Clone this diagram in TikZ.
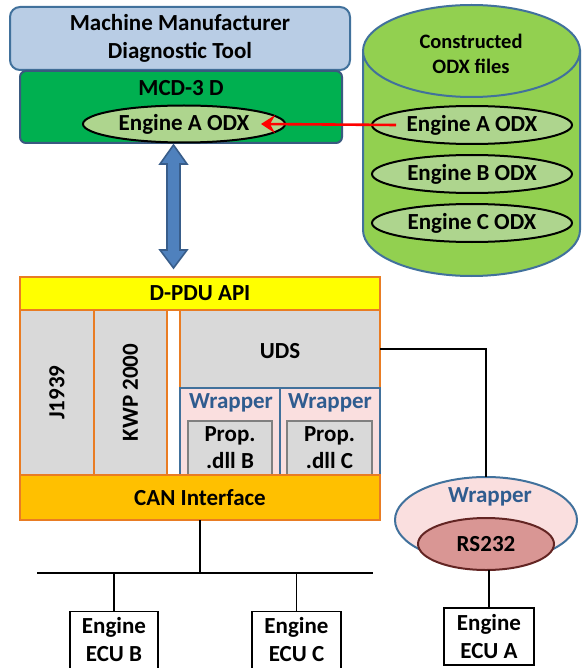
\documentclass[tikz,border=0pt]{standalone}
\usepackage{fontspec}
\setmainfont{Carlito}
\usetikzlibrary{calc,arrows.meta,shapes.geometric}
\definecolor{mmdtfill}{HTML}{B9CDE5}
\definecolor{bluebord}{HTML}{41719C}
\definecolor{mcdgreen}{HTML}{00B050}
\definecolor{mcdbord}{HTML}{3A5A80}
\definecolor{lgreen}{HTML}{AED58E}
\definecolor{cylgreen}{HTML}{92D050}
\definecolor{orng}{HTML}{E97C23}
\definecolor{ylw}{HTML}{FFFF00}
\definecolor{gry}{HTML}{D9D9D9}
\definecolor{grybord}{HTML}{808080}
\definecolor{pink}{HTML}{FADFDF}
\definecolor{wraptext}{HTML}{2F5C8F}
\definecolor{rsfill}{HTML}{D99694}
\definecolor{rsbord}{HTML}{632523}
\definecolor{canfill}{HTML}{FFC000}
\definecolor{arrfill}{HTML}{4F81BD}
\definecolor{arrbord}{HTML}{385D8A}
\definecolor{redarr}{HTML}{FF0000}
\tikzset{
  base/.style={inner sep=0pt, outer sep=0pt, align=center},
  orbox/.style={base, draw=orng, line width=2.5pt},
  oval/.style={base, ellipse, draw=black, line width=2pt, fill=lgreen},
  wrapbox/.style={base, draw=bluebord, line width=2pt, fill=pink},
  propbox/.style={base, draw=grybord, line width=2pt, fill=gry},
  ecubox/.style={base, draw=black, line width=1.8pt, fill=white},
  wire/.style={draw=black, line width=1.9pt},
  wraplabel/.style={base, text=wraptext},
}
\begin{document}
\begin{tikzpicture}[x=1pt,y=-1pt, font=\fontsize{23}{28}\selectfont\bfseries]
\useasboundingbox (0,0) rectangle (582,668);

% Top tool
\node[base, draw=bluebord, line width=2pt, fill=mmdtfill, rounded corners=10pt,
      minimum width=340pt, minimum height=63pt] (mmdt) at (180,38.5)
      {Machine Manufacturer\\Diagnostic Tool};
\node[base, draw=mcdbord, line width=2pt, fill=mcdgreen, rounded corners=6pt,
      minimum width=322pt, minimum height=72pt] (mcd) at (181,107) {};
\node[base] (mcdlabel) at (181,88) {MCD-3 D};
\node[oval, minimum width=202pt, minimum height=37pt] (engA) at (184,124) {Engine A ODX};

% Cylinder
\path[fill=cylgreen, draw=bluebord, line width=2pt]
  (363,51) -- (363,230) arc[start angle=180, end angle=360, x radius=108.5pt, y radius=46pt]
  -- (580,51) -- cycle;
\draw[fill=cylgreen, draw=bluebord, line width=2pt] (471.5,51) ellipse [x radius=108.5pt, y radius=46pt];
\node[base, font=\fontsize{20.5}{25}\selectfont\bfseries] (cyltext) at (471,54) {Constructed\\ODX files};
\node[oval, minimum width=200pt, minimum height=38pt] (odxA) at (472,125) {Engine A ODX};
\node[oval, minimum width=200pt, minimum height=38pt] (odxB) at (472,174) {Engine B ODX};
\node[oval, minimum width=200pt, minimum height=38pt] (odxC) at (472,223) {Engine C ODX};

\draw[draw=redarr, line width=2.6pt, -{Stealth[length=14pt,width=18pt,inset=5pt]}]
  ($(odxA.west)+(24,0)$) -- ($(engA.east)+(-24,0)$);

% D-PDU stack
\node[orbox, fill=gry, minimum width=74pt, minimum height=165pt] (j1939) at (57,392.5) {};
\node[base, rotate=90] (j1939t) at (j1939.center) {J1939};
\node[orbox, fill=gry, minimum width=73pt, minimum height=165pt] (kwp) at (130.5,392.5) {};
\node[base, rotate=90] (kwpt) at (kwp.center) {KWP 2000};
\node[orbox, fill=gry, minimum width=200pt, minimum height=78pt] (uds) at (280,349) {};
\node[base] (udst) at (280,351) {UDS};
\node[wrapbox, minimum width=100pt, minimum height=87pt] (wrapB) at (230,431.5) {};
\node[wrapbox, minimum width=100pt, minimum height=87pt] (wrapC) at (330,431.5) {};
\node[wraplabel] (wrapBt) at (231,403) {Wrapper};
\node[wraplabel] (wrapCt) at (330,403) {Wrapper};
\node[propbox, minimum width=84pt, minimum height=54pt] (propB) at (230,448) {Prop.\\[-1pt].dll B};
\node[propbox, minimum width=85pt, minimum height=54pt] (propC) at (329.5,448) {Prop.\\[-1pt].dll C};
\node[orbox, fill=ylw, minimum width=360pt, minimum height=33pt] (dpdu) at (200,293.5) {D-PDU API};
\node[orbox, fill=canfill, minimum width=360pt, minimum height=45pt] (can) at (200,497.5) {CAN Interface};

% Double arrow between MCD and D-PDU
\coordinate (arrT) at (173.5,145);
\coordinate (arrB) at (173.5,268);
\draw[fill=arrfill, draw=arrbord, line width=1.6pt, line join=miter]
  (arrT) -- ($(arrT)+(13.5,19)$) -- ($(arrT)+(6.5,19)$) -- ($(arrB)+(6.5,-18)$)
  -- ($(arrB)+(13.5,-18)$) -- (arrB) -- ($(arrB)+(-13.5,-18)$) -- ($(arrB)+(-6.5,-18)$)
  -- ($(arrT)+(-6.5,19)$) -- ($(arrT)+(-13.5,19)$) -- cycle;

% Bus
\coordinate (busL) at (37,573);
\coordinate (busR) at (373,573);
\draw[wire] (can.south) -- (can.south |- busL);
\draw[wire] (busL) -- (busR);
\node[ecubox, minimum width=88pt, minimum height=57pt] (ecuB) at (114,640) {Engine\\ECU B};
\node[ecubox, minimum width=89pt, minimum height=57pt] (ecuC) at (296.5,640) {Engine\\ECU C};
\draw[wire] (ecuB.north) -- (ecuB.north |- busL);
\draw[wire] (ecuC.north) -- (ecuC.north |- busL);

% RS232 path
\node[base, ellipse, draw=bluebord, line width=2pt, fill=pink, minimum width=182pt, minimum height=86pt] (wrapA) at (486,520) {};
\node[wraplabel] (wrapAt) at (490,497) {Wrapper};
\node[base, ellipse, draw=rsbord, line width=2pt, fill=rsfill, minimum width=136pt, minimum height=52pt] (rs) at (486,544) {RS232};
\node[ecubox, minimum width=90pt, minimum height=57pt] (ecuA) at (489,636.5) {Engine\\ECU A};
\draw[wire] (uds.east) -- (uds.east -| wrapA.north) -- (wrapA.north);
\draw[wire] (ecuA.north) -- (ecuA.north |- rs.south);
\end{tikzpicture}
\end{document}
